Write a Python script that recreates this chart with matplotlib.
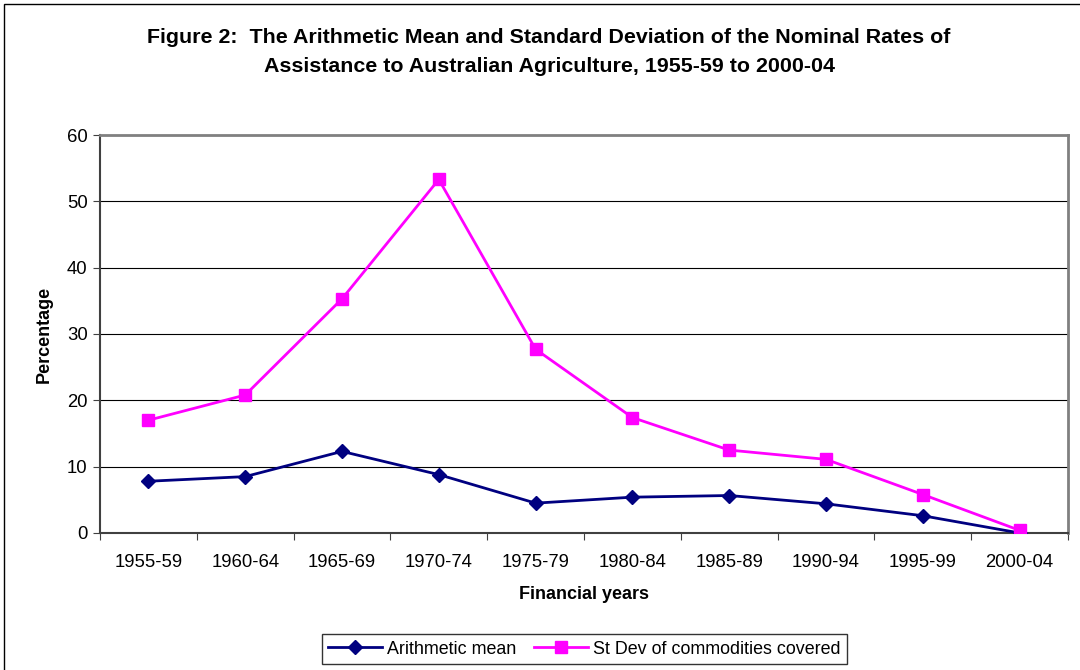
import numpy as np
import matplotlib
matplotlib.use('Agg')
import matplotlib.pyplot as plt
from matplotlib.patches import Rectangle

plt.rcParams['font.family'] = ['Liberation Sans', 'DejaVu Sans']

# data
periods = ['1955-59', '1960-64', '1965-69', '1970-74', '1975-79',
           '1980-84', '1985-89', '1990-94', '1995-99', '2000-04']
arith_mean = [7.8, 8.5, 12.3, 8.8, 4.5, 5.4, 5.65, 4.4, 2.6, 0.0]
st_dev = [17.0, 20.8, 35.3, 53.3, 27.7, 17.4, 12.5, 11.1, 5.8, 0.4]

fig = plt.figure(figsize=(10.8, 6.7), dpi=100)
ax = fig.add_axes([0.0926, 0.2045, 0.8963, 0.594])

x = np.arange(len(periods))
ax.plot(x, arith_mean, color='#000080', lw=2, marker='D', ms=7,
        label='Arithmetic mean', zorder=3)
ax.plot(x, st_dev, color='#FF00FF', lw=2, marker='s', ms=8,
        label='St Dev of commodities covered', zorder=3)

ax.set_xlim(-0.5, len(periods) - 0.5)
ax.set_ylim(0, 60)
ax.set_yticks(np.arange(0, 61, 10))
ax.yaxis.grid(True, color='black', lw=0.8)
ax.set_axisbelow(True)

# ticks between categories, labels at the centre
ax.set_xticks(np.arange(-0.5, len(periods), 1.0))
ax.set_xticklabels([])
ax.set_xticks(x, minor=True)
ax.set_xticklabels(periods, minor=True)
ax.tick_params(axis='x', which='major', length=5, direction='out', color='#404040')
ax.tick_params(axis='x', which='minor', length=0, pad=15, labelsize=13.3)
ax.tick_params(axis='y', length=5, direction='out', color='#404040', labelsize=13.3, pad=4)

for s in ['left', 'bottom']:
    ax.spines[s].set_color('#404040')
    ax.spines[s].set_linewidth(1.5)
for s in ['top', 'right']:
    ax.spines[s].set_color('#808080')
    ax.spines[s].set_linewidth(2)

ax.set_xlabel('Financial years', fontsize=13, fontweight='bold', labelpad=11)
ax.set_ylabel('Percentage', fontsize=13, fontweight='bold', labelpad=10)

fig.text(549 / 1080, 1 - 52 / 670, 'Figure 2:  The Arithmetic Mean and Standard Deviation of the Nominal Rates of\n'
         'Assistance to Australian Agriculture, 1955-59 to 2000-04',
         ha='center', va='center', fontsize=15.4, fontweight='bold', linespacing=1.7)

leg = ax.legend(loc='center', bbox_to_anchor=(0.5412, (670 - 649) / 670), bbox_transform=fig.transFigure,
                ncol=2, fontsize=12.9, frameon=True, fancybox=False, edgecolor='black',
                handlelength=3, handletextpad=0.3, columnspacing=1.0, borderpad=0.35)
leg.get_frame().set_linewidth(1)

# outer chart border
fig.add_artist(Rectangle((4 / 1080, -0.01), 1.1, 1 - 4 / 670 + 0.01, transform=fig.transFigure,
                         fill=False, edgecolor='black', lw=1))

fig.savefig('out.png', dpi=100)
